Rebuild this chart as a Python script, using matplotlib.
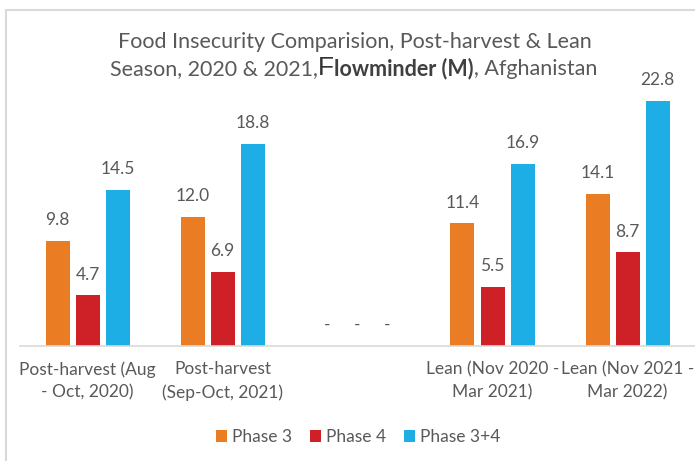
import numpy as np
import matplotlib
matplotlib.use("Agg")
import matplotlib.pyplot as plt
from matplotlib.patches import Rectangle

plt.rcParams['font.family'] = ['Lato', 'DejaVu Sans']

categories = ['Post-harvest (Aug\n- Oct, 2020)', 'Post-harvest\n(Sep-Oct, 2021)', '',
              'Lean (Nov 2020 -\nMar 2021)', 'Lean (Nov 2021 -\nMar 2022)']
series_names = ['Phase 3', 'Phase 4', 'Phase 3+4']
phase3 = [9.8, 12.0, np.nan, 11.4, 14.1]
phase4 = [4.7, 6.9, np.nan, 5.5, 8.7]
phase34 = [14.5, 18.8, np.nan, 16.9, 22.8]
colors = ['#EA7D24', '#CD2027', '#1CAEE4']

text_col = '#595959'
W, H = 695, 461
fig = plt.figure(figsize=(W / 100, H / 100), dpi=100)

# light frame around the chart
fig.patches.append(Rectangle((6 / W, -0.2), 1.3, 1.2 - 10 / H, transform=fig.transFigure,
                             fill=False, edgecolor='#d9d9d9', linewidth=1.5, clip_on=False))

ax = fig.add_axes([20 / W, (H - 346) / H, 675 / W, 269 / H])
x = np.arange(len(categories))
step = 30 / 135
bw = 24 / 135
for i, (vals, name, c) in enumerate(zip([phase3, phase4, phase34], series_names, colors)):
    v = np.array(vals, dtype=float)
    h = np.nan_to_num(v)
    xs = x + (i - 1) * step
    ax.bar(xs, h, width=bw, color=c, label=name, linewidth=0)
    for xi, vi, hi in zip(xs, v, h):
        lab = '-' if np.isnan(vi) else f'{vi:.1f}'
        ax.annotate(lab, (xi, hi), xytext=(0, 15), textcoords='offset points',
                    ha='center', va='center', fontsize=12.5, color=text_col)

ax.set_xlim(-0.5, len(categories) - 0.5)
ax.set_ylim(0, 25)
ax.set_yticks([])
for s in ['top', 'left', 'right']:
    ax.spines[s].set_visible(False)
ax.spines['bottom'].set_color('#d9d9d9')
ax.spines['bottom'].set_linewidth(1.2)
ax.set_xticks(x)
ax.set_xticklabels(categories, fontsize=12.5, color=text_col, linespacing=1.5)
ax.tick_params(axis='x', length=0, pad=11)

fig.legend(loc='center', bbox_to_anchor=(358 / W, 1 - 437 / H), ncol=3, frameon=False,
           fontsize=12.5, handlelength=0.65, handleheight=0.65, handletextpad=0.3,
           columnspacing=1.0, labelcolor=text_col)

# title: first line plain, second line mixed styles
fig.text(354.5 / W, 1 - 48 / H, 'Food Insecurity Comparision, Post-harvest & Lean',
         ha='center', va='baseline', fontsize=15.5, color=text_col)

renderer = fig.canvas.get_renderer()
pieces = [('Season, 2020 & 2021,', dict(fontsize=15.5, color=text_col)),
          ('F', dict(fontsize=19, color='#333333', family=['Liberation Sans', 'DejaVu Sans'])),
          ('lowminder (M)', dict(fontsize=15.5, color='#404040', fontweight='bold')),
          (', Afghanistan', dict(fontsize=15.5, color=text_col))]
objs = []
for txt, kw in pieces:
    t = fig.text(0, 1 - 75 / H, txt, ha='left', va='baseline', **kw)
    objs.append(t)
widths = [t.get_window_extent(renderer).width for t in objs]
start = 353.5 - sum(widths) / 2
for t, w in zip(objs, widths):
    t.set_x(start / W)
    start += w

fig.savefig('out.png', dpi=100)
